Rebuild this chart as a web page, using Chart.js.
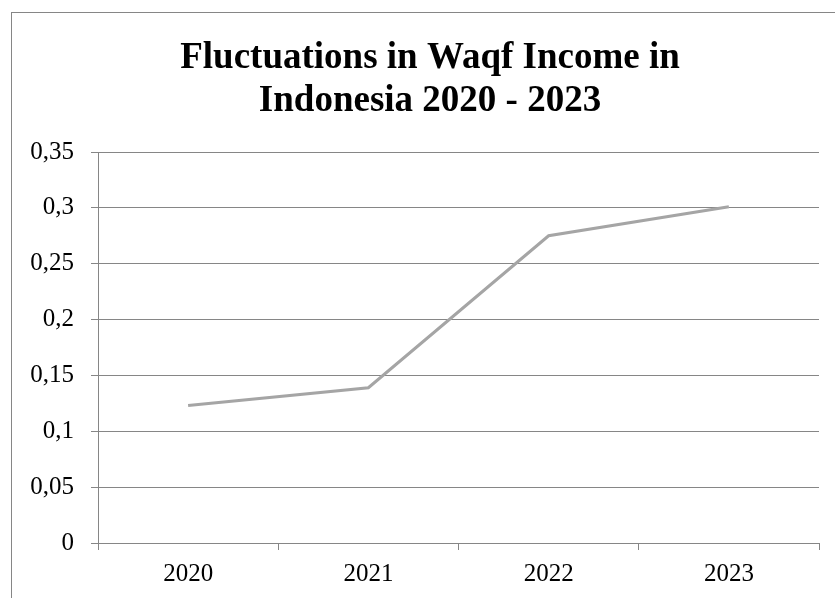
<!DOCTYPE html>
<html>
<head>
<meta charset="utf-8">
<script src="https://cdn.jsdelivr.net/npm/chart.js@4"></script>
<style>
    html, body { margin: 0; padding: 0; background: #ffffff; }
    canvas { display: block; }
</style>
</head>
<body>
<canvas id="chart" width="835" height="598"></canvas>
<script>
// ====== Data ======
const years = ['2020', '2021', '2022', '2023'];
const waqfIncome = [0.123, 0.139, 0.275, 0.301];
const yTickLabels = ['0', '0,05', '0,1', '0,15', '0,2', '0,25', '0,3', '0,35'];
const titleLines = ['Fluctuations in Waqf Income in', 'Indonesia 2020 - 2023'];

const gridColor = '#868686';
const lineColor = '#a5a5a5';
const fontFamily = '"Liberation Serif", "Times New Roman", serif';

// Frame around the chart and the two-line title
const frameAndTitle = {
    id: 'frameAndTitle',
    beforeDraw(chart) {
        const ctx = chart.ctx;
        ctx.save();
        ctx.strokeStyle = gridColor;
        ctx.lineWidth = 1;
        ctx.strokeRect(11.5, 12.5, 900, 700);
        ctx.restore();
    },
    afterDraw(chart) {
        const ctx = chart.ctx;
        ctx.save();
        ctx.fillStyle = '#000000';
        ctx.font = 'bold 37px ' + fontFamily;
        ctx.textAlign = 'center';
        ctx.textBaseline = 'alphabetic';
        ctx.fillText(titleLines[0], 430, 68);
        ctx.fillText(titleLines[1], 430, 111);
        ctx.restore();
    }
};

new Chart(document.getElementById('chart'), {
    type: 'line',
    data: {
        labels: years,
        datasets: [{
            label: 'Waqf Income',
            data: waqfIncome,
            borderColor: lineColor,
            backgroundColor: lineColor,
            borderWidth: 3,
            pointRadius: 0,
            tension: 0,
            fill: false
        }]
    },
    options: {
        responsive: false,
        animation: false,
        layout: { padding: { left: 11, right: 16, top: 152, bottom: 0 } },
        plugins: {
            legend: { display: false },
            title: { display: false },
            tooltip: { enabled: false }
        },
        scales: {
            x: {
                type: 'category',
                offset: true,
                afterFit: (scale) => { scale.height = 55; },
                grid: {
                    offset: true,
                    drawOnChartArea: false,
                    drawTicks: true,
                    tickLength: 7,
                    color: gridColor
                },
                border: { display: true, color: gridColor },
                ticks: {
                    color: '#000000',
                    padding: 9,
                    maxRotation: 0,
                    font: { family: fontFamily, size: 25 }
                }
            },
            y: {
                min: 0,
                max: 0.35,
                afterFit: (scale) => { scale.width = 87; },
                grid: {
                    color: gridColor,
                    drawTicks: true,
                    tickLength: 7
                },
                border: { display: true, color: gridColor },
                ticks: {
                    stepSize: 0.05,
                    color: '#000000',
                    padding: 17,
                    font: { family: fontFamily, size: 25 },
                    callback: (value, index) => yTickLabels[index]
                }
            }
        }
    },
    plugins: [frameAndTitle]
});
</script>
</body>
</html>
